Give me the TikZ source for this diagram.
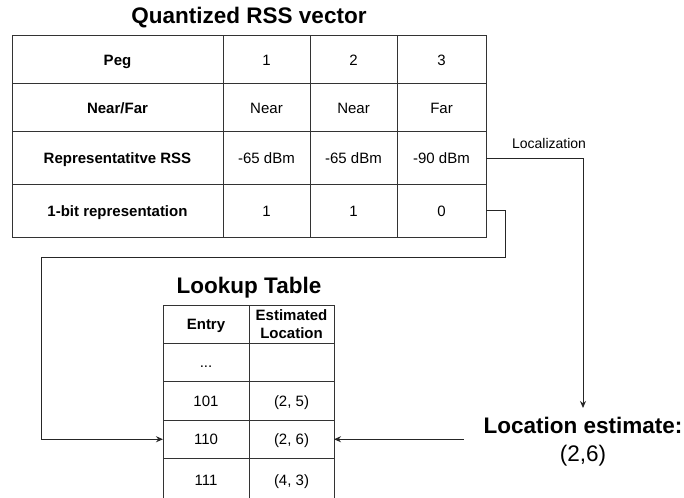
\documentclass[tikz,border=0pt]{standalone}
\usepackage{fontspec}
\setmainfont{Liberation Sans}
\usetikzlibrary{arrows.meta}

\tikzset{
  box/.style={draw=black!80, line width=1pt, inner sep=0pt, outer sep=0pt, align=center,
    font=\fontsize{15}{18}\selectfont},
  cell/.style={box, text height=10.7pt, text depth=0pt},
  bold/.style={font=\fontsize{15}{18}\selectfont\bfseries},
  title/.style={font=\fontsize{22.5}{27}\selectfont\bfseries, anchor=base, inner sep=0pt},
  conn/.style={draw=black!85, line width=1pt},
}

\begin{document}
\begin{tikzpicture}[x=1pt,y=-1pt,>={Stealth[length=7pt,width=6pt]}]
		\useasboundingbox (0,0) rectangle (684,497);
		% quantized RSS vector
		\node[title] (vecTitle) at (249,24) {Quantized RSS vector};
		\node[cell,bold,minimum width=211pt,minimum height=48pt] (pegH) at (117.5,60) {Peg};
		\node[cell,minimum width=87pt,minimum height=48pt] (peg1) at (266.5,60) {1};
		\node[cell,minimum width=87pt,minimum height=48pt] (peg2) at (353.5,60) {2};
		\node[cell,minimum width=89pt,minimum height=48pt] (peg3) at (441.5,60) {3};
		\node[cell,bold,minimum width=211pt,minimum height=48pt] (nfH) at (117.5,108) {Near/Far};
		\node[cell,minimum width=87pt,minimum height=48pt] (nf1) at (266.5,108) {Near};
		\node[cell,minimum width=87pt,minimum height=48pt] (nf2) at (353.5,108) {Near};
		\node[cell,minimum width=89pt,minimum height=48pt] (nf3) at (441.5,108) {Far};
		\node[cell,bold,minimum width=211pt,minimum height=52.5pt] (rssH) at (117.5,158.25) {Representatitve RSS};
		\node[cell,minimum width=87pt,minimum height=52.5pt] (rss1) at (266.5,158.25) {-65 dBm};
		\node[cell,minimum width=87pt,minimum height=52.5pt] (rss2) at (353.5,158.25) {-65 dBm};
		\node[cell,minimum width=89pt,minimum height=52.5pt] (rss3) at (441.5,158.25) {-90 dBm};
		\node[cell,bold,minimum width=211pt,minimum height=52.5pt] (bitH) at (117.5,210.75) {1-bit representation};
		\node[cell,minimum width=87pt,minimum height=52.5pt] (bit1) at (266.5,210.75) {1};
		\node[cell,minimum width=87pt,minimum height=52.5pt] (bit2) at (353.5,210.75) {1};
		\node[cell,minimum width=89pt,minimum height=52.5pt] (bit3) at (441.5,210.75) {0};

		% lookup table
		\node[title] (lkTitle) at (249,293) {Lookup Table};
		\node[cell,bold,minimum width=86pt,minimum height=38pt] (entH) at (206,324) {Entry};
		\node[box,bold,minimum width=85pt,minimum height=38pt] (locH) at (291.5,324) {Estimated\\Location};
		\node[cell,minimum width=86pt,minimum height=38.5pt] (ent0) at (206,362.25) {...};
		\node[cell,minimum width=85pt,minimum height=38.5pt] (loc0) at (291.5,362.25) {};
		\node[cell,minimum width=86pt,minimum height=38.5pt] (ent101) at (206,400.75) {101};
		\node[cell,minimum width=85pt,minimum height=38.5pt] (loc101) at (291.5,400.75) {(2, 5)};
		\node[cell,minimum width=86pt,minimum height=38.5pt] (ent110) at (206,439.25) {110};
		\node[cell,minimum width=85pt,minimum height=38.5pt] (loc110) at (291.5,439.25) {(2, 6)};
		% last row runs past the lower edge
		\node[cell,minimum width=86pt,minimum height=44pt] (ent111) at (206,480.5) {111};
		\node[cell,minimum width=85pt,minimum height=44pt] (loc111) at (291.5,480.5) {(4, 3)};

		% estimate
		\node[anchor=north,align=center,inner xsep=19.5pt,inner ysep=8.5pt,
			font=\fontsize{22.5}{28}\selectfont] (est) at (583,408) {\textbf{Location estimate:}\\(2,6)};
		\node[font=\fontsize{14}{17}\selectfont] (locLbl) at (549,143) {Localization};

		% connectors
		\coordinate (bend) at (41,257);
		\draw[conn,->] (rss3.east) -| (est.north);
		\draw[conn,->] (bit3.east) -- ++(19,0) |- (bend) |- (ent110.west);
		\draw[conn,->] (est.west |- loc110.east) -- (loc110.east);
	\end{tikzpicture}
\end{document}
